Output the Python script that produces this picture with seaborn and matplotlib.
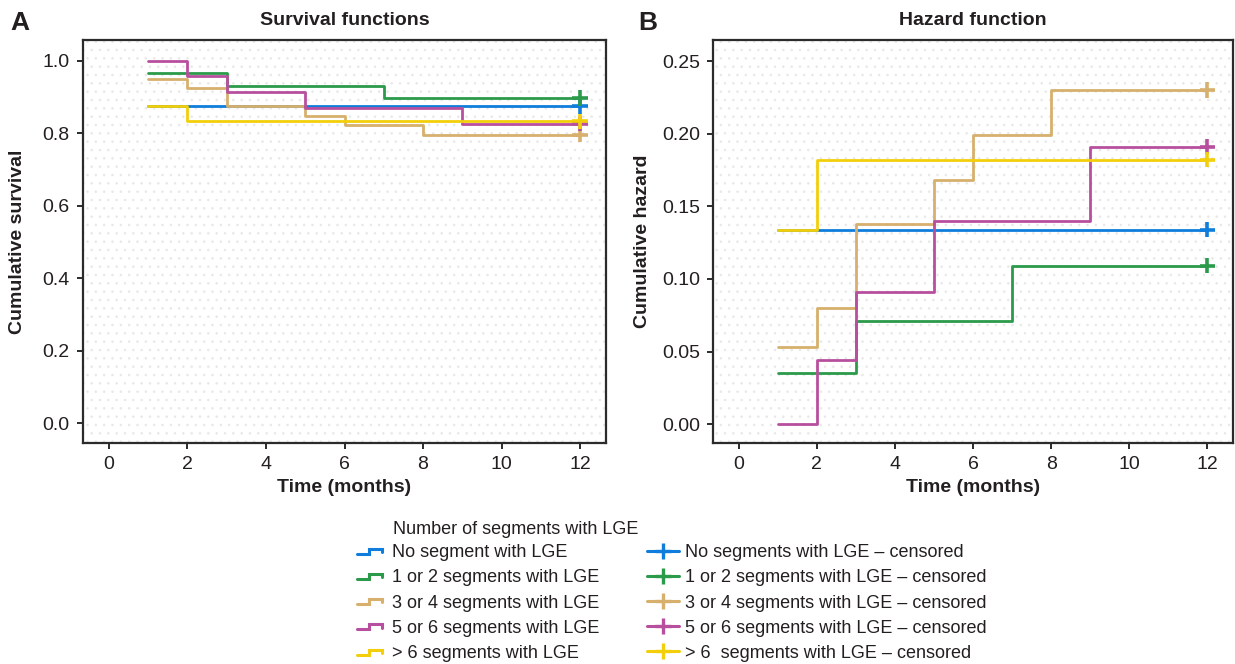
import numpy as np
import pandas as pd
import matplotlib
matplotlib.use("Agg")
import matplotlib.pyplot as plt
import seaborn as sns
from matplotlib.legend_handler import HandlerBase
from matplotlib.lines import Line2D
from matplotlib.patches import Rectangle
from matplotlib import font_manager

# ---------------- data ----------------
groups = ["No segment with LGE", "1 or 2 segments with LGE", "3 or 4 segments with LGE",
          "5 or 6 segments with LGE", "> 6 segments with LGE"]
censored_labels = ["No segments with LGE \u2013 censored", "1 or 2 segments with LGE \u2013 censored",
                   "3 or 4 segments with LGE \u2013 censored", "5 or 6 segments with LGE \u2013 censored",
                   "> 6  segments with LGE \u2013 censored"]
colors = ["#0f7ddb", "#2b9a4a", "#d6b06c", "#b84f9e", "#f2cf0a"]

time_g0 = [1, 12]
surv_g0 = [0.875, 0.875]
haz_g0 = [0.134, 0.134]

time_g1 = [1, 3, 7, 12]
surv_g1 = [0.966, 0.931, 0.897, 0.897]
haz_g1 = [0.035, 0.071, 0.109, 0.109]

time_g2 = [1, 2, 3, 5, 6, 8, 12]
surv_g2 = [0.950, 0.926, 0.876, 0.847, 0.822, 0.796, 0.796]
haz_g2 = [0.053, 0.080, 0.138, 0.168, 0.199, 0.230, 0.230]

time_g3 = [1, 2, 3, 5, 9, 12]
surv_g3 = [1.000, 0.957, 0.914, 0.869, 0.826, 0.826]
haz_g3 = [0.000, 0.044, 0.091, 0.140, 0.191, 0.191]

time_g4 = [1, 2, 12]
surv_g4 = [0.875, 0.833, 0.833]
haz_g4 = [0.134, 0.182, 0.182]

x_ticks = [0, 2, 4, 6, 8, 10, 12]
surv_ticks = [0.0, 0.2, 0.4, 0.6, 0.8, 1.0]
haz_ticks = [0.00, 0.05, 0.10, 0.15, 0.20, 0.25]

times = [time_g0, time_g1, time_g2, time_g3, time_g4]
survs = [surv_g0, surv_g1, surv_g2, surv_g3, surv_g4]
hazs = [haz_g0, haz_g1, haz_g2, haz_g3, haz_g4]

rows = []
for g, t, s, h in zip(groups, times, survs, hazs):
    for ti, si, hi in zip(t, s, h):
        rows.append({"group": g, "time": ti, "surv": si, "haz": hi})
df = pd.DataFrame(rows)
df_end = df.groupby("group", sort=False).tail(1)

# ---------------- style ----------------
sns.set_theme(style="white")
avail = {f.name for f in font_manager.fontManager.ttflist}
fam = [f for f in ["Liberation Sans Narrow", "DejaVu Sans Condensed", "Liberation Sans"] if f in avail]
plt.rcParams["font.family"] = fam + ["DejaVu Sans"]
plt.rcParams["hatch.linewidth"] = 0.6
TXT = "#231f20"
FS_TICK = 14
FS_LAB = 14
FS_LEG = 13

W, H = 1235, 664
fig = plt.figure(figsize=(W / 100, H / 100), dpi=100)
fig.patch.set_facecolor("white")

def px_axes(x0, y_top, x1, y_bot):
    return fig.add_axes([x0 / W, 1 - y_bot / H, (x1 - x0) / W, (y_bot - y_top) / H])

axA = px_axes(83, 40, 606, 443)
axB = px_axes(713, 40, 1233, 443)

def style_axes(ax):
    ax.set_facecolor("white")
    ax.add_patch(Rectangle((0, 0), 1, 1, transform=ax.transAxes, facecolor="none",
                           edgecolor="#e8e8e8", hatch="..", linewidth=0, zorder=0.5))
    for sp in ax.spines.values():
        sp.set_linewidth(1.6)
        sp.set_color("#2b2b2b")
        sp.set_visible(True)
    ax.tick_params(axis="both", which="both", direction="out", length=4.5, width=1.4,
                   colors="#2b2b2b", labelsize=FS_TICK, labelcolor=TXT, pad=5,
                   bottom=True, left=True, top=False, right=False)

for ax, ycol, yt, ylim, ylab, title, fmt, lpad in [
        (axA, "surv", surv_ticks, (-0.054, 1.057), "Cumulative survival", "Survival functions", "{:.1f}", 12),
        (axB, "haz", haz_ticks, (-0.013, 0.2645), "Cumulative hazard", "Hazard function", "{:.2f}", 8)]:
    style_axes(ax)
    sns.lineplot(data=df, x="time", y=ycol, hue="group", hue_order=groups, palette=colors,
                 drawstyle="steps-post", estimator=None, legend=False, linewidth=2.0, ax=ax, zorder=3)
    sns.scatterplot(data=df_end, x="time", y=ycol, hue="group", hue_order=groups, palette=colors,
                    marker="+", s=120, linewidth=2.6, legend=False, ax=ax, zorder=4)
    ax.set_xlim(-0.66, 12.66)
    ax.set_ylim(*ylim)
    ax.set_xticks(x_ticks)
    ax.set_xticklabels([str(v) for v in x_ticks])
    ax.set_yticks(yt)
    ax.set_yticklabels([fmt.format(v) for v in yt])
    ax.set_xlabel("Time (months)", fontsize=FS_LAB, fontweight="bold", color=TXT, labelpad=4)
    ax.set_ylabel(ylab, fontsize=FS_LAB, fontweight="bold", color=TXT, labelpad=lpad)
    ax.set_title(title, fontsize=FS_LAB, fontweight="bold", color=TXT, pad=11)

fig.text(10 / W, 1 - 23 / H, "A", fontsize=19, fontweight="bold", color=TXT, va="center", ha="left")
fig.text(638 / W, 1 - 23 / H, "B", fontsize=19, fontweight="bold", color=TXT, va="center", ha="left")

# ---------------- legends ----------------
class StepHandler(HandlerBase):
    def create_artists(self, legend, orig_handle, xdescent, ydescent, width, height, fontsize, trans):
        x0, y0 = -xdescent, -ydescent
        lo, hi = y0 + 0.25 * height, y0 + 0.65 * height
        xs = [x0, x0 + 0.4 * width, x0 + 0.4 * width, x0 + 0.85 * width, x0 + 0.85 * width]
        ys = [lo, lo, hi, hi, lo + 0.15 * height]
        ln = Line2D(xs, ys, color=orig_handle.get_color(), linewidth=2.2,
                    solid_joinstyle="miter", transform=trans)
        return [ln]

step_handles = [Line2D([], [], color=c) for c in colors]
cens_handles = [Line2D([], [], color=c, linewidth=2.2, marker="+", markersize=11, markeredgewidth=2.4)
                for c in colors]

fig.text(393 / W, 1 - 530 / H, "Number of segments with LGE", fontsize=FS_LEG, color=TXT,
         va="center", ha="left")

common = dict(frameon=False, fontsize=FS_LEG, labelspacing=0.45, borderpad=0, borderaxespad=0,
              handletextpad=0.35, loc="center left", labelcolor=TXT)
fig.legend(step_handles, groups, bbox_to_anchor=(357 / W, 1 - 603 / H), handlelength=1.6,
           handler_map={Line2D: StepHandler()}, **common)
fig.legend(cens_handles, censored_labels, bbox_to_anchor=(647 / W, 1 - 603 / H), handlelength=1.75,
           **common)

fig.savefig("out.png", dpi=100, facecolor="white")
